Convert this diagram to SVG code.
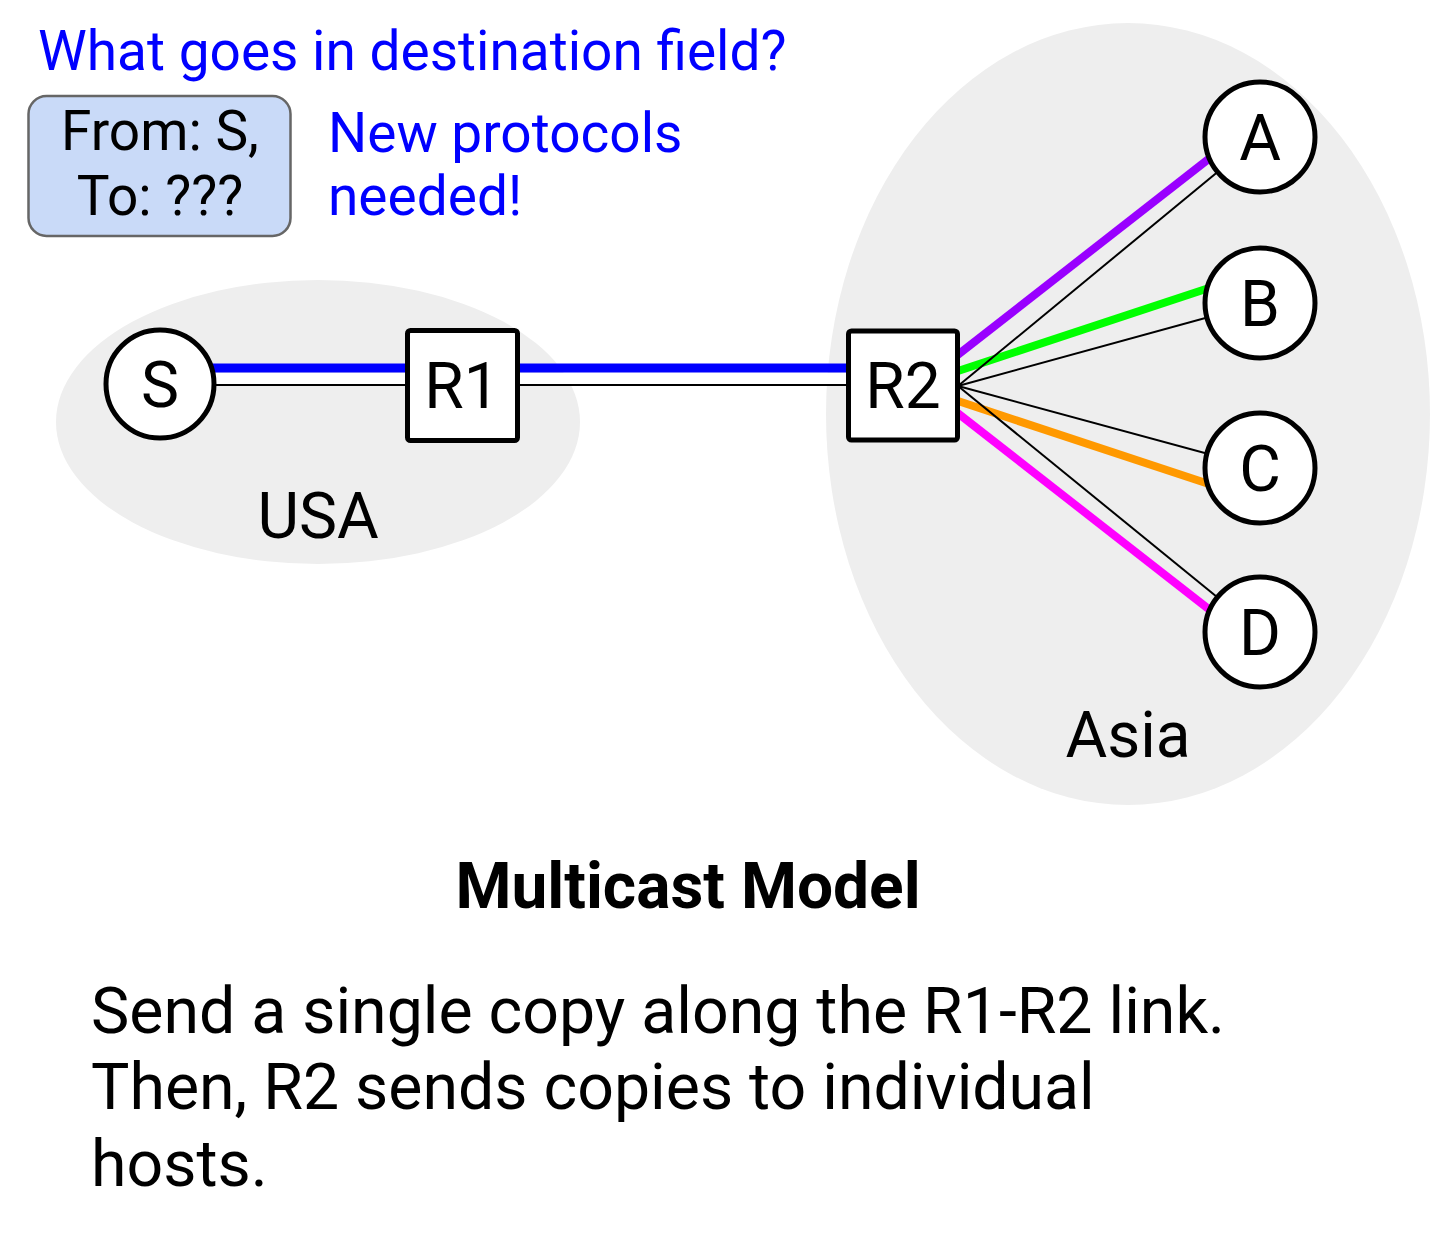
<svg xmlns="http://www.w3.org/2000/svg" width="1434" height="1242" viewBox="0 0 1434 1242">
<style>
text{font-family:Roboto,"Liberation Sans",sans-serif}
.region{fill:#eeeeee}
.lbl{font-size:64px;fill:#000;text-anchor:middle}
.blue{font-size:55px;fill:#0000ff}
.node{fill:#fff;stroke:#000;stroke-width:5}
.thin{stroke:#000;stroke-width:2;fill:none}
.copy{stroke-width:8;fill:none}
.body{font-size:64.4px;fill:#000}
</style>
<rect width="1434" height="1242" fill="#fff"/>
<g id="regions">
<ellipse class="region" cx="318" cy="422" rx="262" ry="142"/>
<ellipse class="region" cx="1128" cy="414" rx="302" ry="391"/>
<text class="lbl" x="318" y="538">USA</text>
<text class="lbl" x="1128" y="757">Asia</text>
</g>
<g id="notes">
<text class="blue" x="38" y="70">What goes in destination field?</text>
<g id="packet">
<rect x="28.5" y="96" width="262" height="140" rx="18" fill="#c9daf8" stroke="#666666" stroke-width="2.5"/>
<text x="160" y="150" font-size="55" text-anchor="middle">From: S,</text>
<text x="160" y="215" font-size="55" text-anchor="middle">To: ???</text>
</g>
<text class="blue" x="328" y="152">New protocols</text>
<text class="blue" x="328" y="215">needed!</text>
</g>
<g id="connectors">
<rect x="212" y="373" width="636" height="11" fill="#fff"/>
<line x1="212" y1="368" x2="848" y2="368" stroke="#0000ff" stroke-width="9"/>
<line class="thin" x1="212" y1="385" x2="848" y2="385"/>
<line class="copy" stroke="#9900ff" x1="955" y1="357" x2="1215" y2="154"/>
<line class="copy" stroke="#00ff00" x1="955" y1="372" x2="1215" y2="286"/>
<line class="copy" stroke="#ff9900" x1="955" y1="400" x2="1215" y2="486"/>
<line class="copy" stroke="#ff00ff" x1="955" y1="411" x2="1215" y2="614"/>
<line class="thin" x1="958" y1="386" x2="1260" y2="137"/>
<line class="thin" x1="958" y1="386" x2="1260" y2="303"/>
<line class="thin" x1="958" y1="386" x2="1260" y2="468"/>
<line class="thin" x1="958" y1="386" x2="1260" y2="632"/>
</g>
<g id="S"><circle class="node" cx="160" cy="384" r="54"/><text class="lbl" x="160" y="407">S</text></g>
<g id="R1"><rect class="node" x="407.5" y="330.5" width="110" height="110" rx="3"/><text class="lbl" x="462" y="408">R1</text></g>
<g id="R2"><rect class="node" x="848.5" y="331" width="109" height="109" rx="3"/><text class="lbl" x="903" y="408">R2</text></g>
<g id="A"><circle class="node" cx="1260" cy="137" r="55"/><text class="lbl" x="1260" y="160">A</text></g>
<g id="B"><circle class="node" cx="1260" cy="303" r="55"/><text class="lbl" x="1260" y="326">B</text></g>
<g id="C"><circle class="node" cx="1260" cy="468" r="55"/><text class="lbl" x="1260" y="491">C</text></g>
<g id="D"><circle class="node" cx="1260" cy="632" r="55"/><text class="lbl" x="1260" y="655">D</text></g>
<g id="caption">
<text x="688" y="908" font-size="64" font-weight="bold" text-anchor="middle">Multicast Model</text>
<text class="body" x="91" y="1033">Send a single copy along the R1-R2 link.</text>
<text class="body" x="91" y="1109">Then, R2 sends copies to individual</text>
<text class="body" x="91" y="1186">hosts.</text>
</g>
</svg>
